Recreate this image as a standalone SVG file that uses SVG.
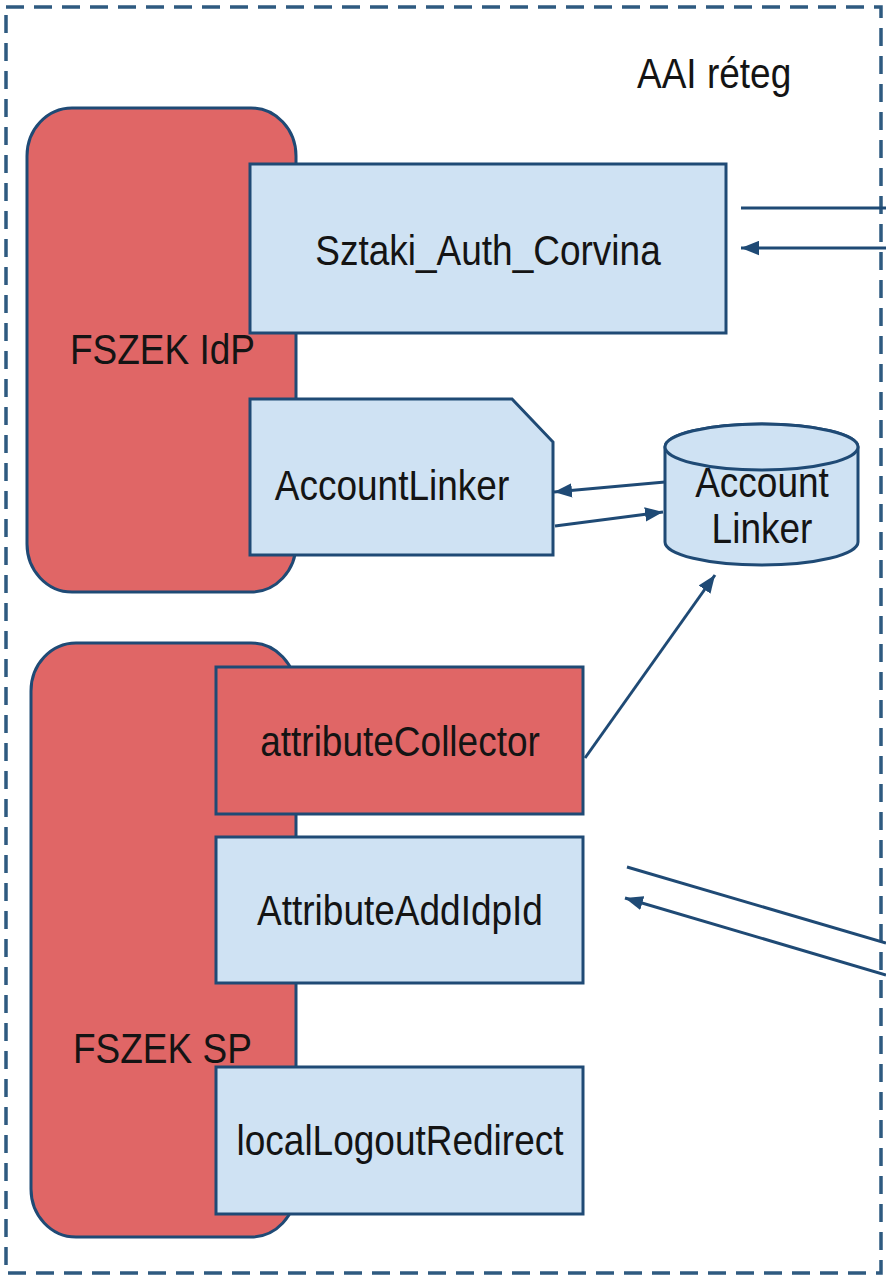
<svg xmlns="http://www.w3.org/2000/svg" width="886" height="1281" viewBox="0 0 886 1281">
<style>
.txt{font-family:"Liberation Sans",Arial,sans-serif;font-size:37px;fill:#141414}
.mid{text-anchor:middle}
.red{fill:#e06666;stroke:#1f4a75;stroke-width:3}
.blue{fill:#cfe2f3;stroke:#1f4a75;stroke-width:3}
.conn{stroke:#1f4a75;stroke-width:3;fill:none}
.border{fill:none;stroke:#2e5a80;stroke-width:3.5;stroke-dasharray:18 10}
</style>
<defs>
<marker id="arr" viewBox="0 0 10 8" refX="10" refY="4" markerWidth="18" markerHeight="15" markerUnits="userSpaceOnUse" orient="auto">
<path d="M0,0 L10,4 L0,8 z" fill="#1f4a75"/>
</marker>
</defs>
<rect id="layer" class="border" x="6" y="7" width="875" height="1266"/>
<text class="txt" transform="translate(637,88) scale(1,1.13)">AAI réteg</text>

<g id="fszek-idp">
<rect class="red" x="27" y="108" width="269" height="484" rx="45" ry="48"/>
<text class="txt" transform="translate(70,364) scale(1,1.13)">FSZEK IdP</text>
</g>
<g id="sztaki">
<rect class="blue" x="250" y="164" width="476" height="169"/>
<text class="txt mid" transform="translate(488,265) scale(1,1.13)">Sztaki_Auth_Corvina</text>
</g>
<g id="accountlinker">
<path class="blue" d="M250,399 L512,399 L553,442 L553,555 L250,555 Z"/>
<text class="txt mid" transform="translate(392,500) scale(1,1.13)">AccountLinker</text>
</g>
<g id="accountlinker-db">
<path class="blue" d="M665,447 L665,542 A96.5,23 0 0 0 858,542 L858,447 A96.5,23 0 0 0 665,447 Z"/>
<ellipse class="blue" cx="761.5" cy="447" rx="96.5" ry="23"/>
<text class="txt mid" transform="translate(762,497) scale(1,1.13)">Account</text>
<text class="txt mid" transform="translate(762,543) scale(1,1.13)">Linker</text>
</g>

<g id="fszek-sp">
<rect class="red" x="31" y="643" width="265" height="594" rx="45" ry="48"/>
<text class="txt" transform="translate(73,1063) scale(1,1.13)">FSZEK SP</text>
</g>
<g id="attributeCollector">
<rect class="red" x="216" y="667" width="367" height="147"/>
<text class="txt mid" transform="translate(400,756) scale(1,1.13)">attributeCollector</text>
</g>
<g id="attributeAddIdpId">
<rect class="blue" x="216" y="837" width="367" height="146"/>
<text class="txt mid" transform="translate(400,925) scale(1,1.13)">AttributeAddIdpId</text>
</g>
<g id="localLogoutRedirect">
<rect class="blue" x="216" y="1067" width="367" height="147"/>
<text class="txt mid" transform="translate(400,1155) scale(1,1.13)">localLogoutRedirect</text>
</g>

<g id="connectors">
<line class="conn" x1="741" y1="208" x2="886" y2="208"/>
<line class="conn" x1="886" y1="248" x2="741" y2="248" marker-end="url(#arr)"/>
<line class="conn" x1="665" y1="482" x2="554" y2="492" marker-end="url(#arr)"/>
<line class="conn" x1="555" y1="526" x2="663" y2="512" marker-end="url(#arr)"/>
<line class="conn" x1="585" y1="758" x2="715" y2="575" marker-end="url(#arr)"/>
<line class="conn" x1="627" y1="867" x2="886" y2="943"/>
<line class="conn" x1="886" y1="975" x2="625" y2="898" marker-end="url(#arr)"/>
</g>
</svg>
